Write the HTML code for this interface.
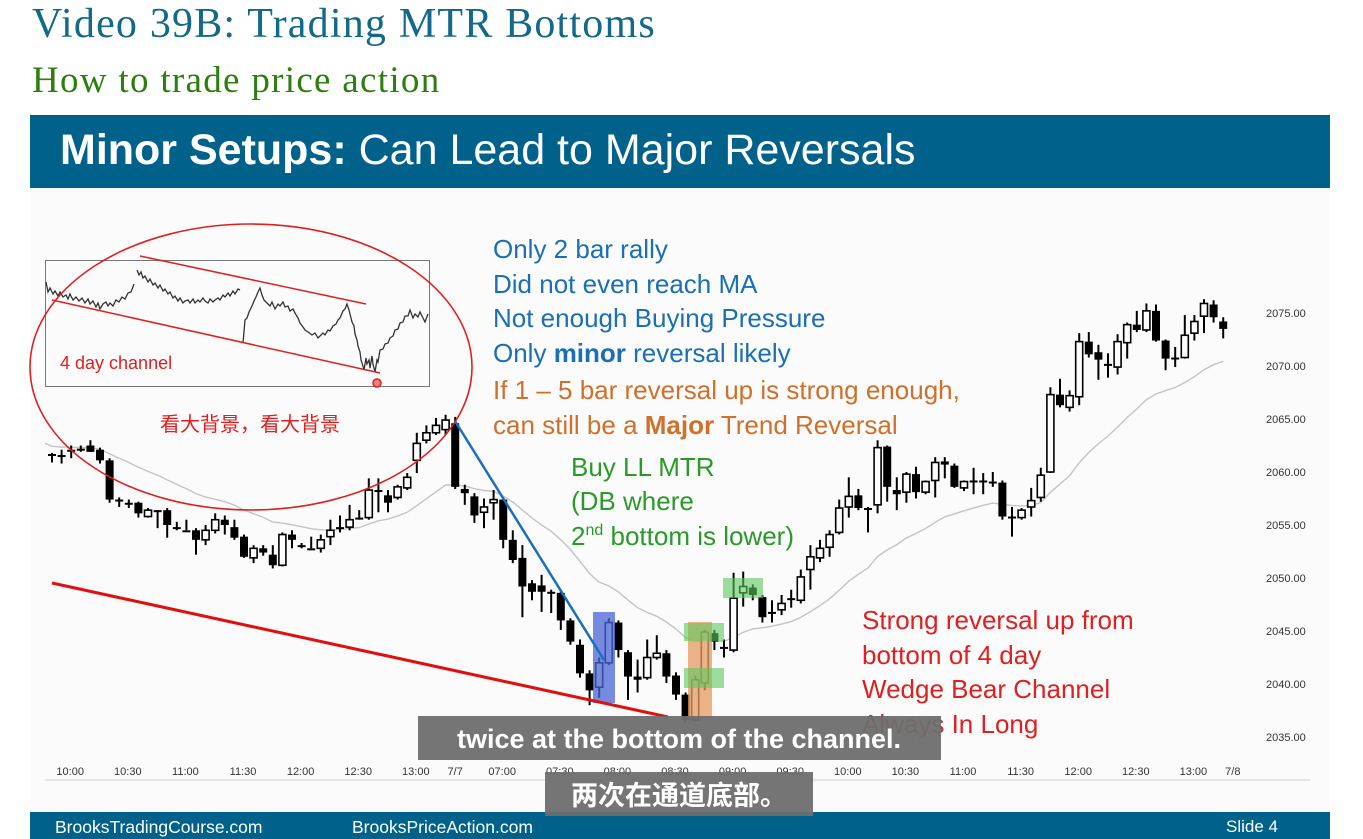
<!DOCTYPE html>
<html><head><meta charset="utf-8">
<style>
html,body{margin:0;padding:0;background:#fff;}
body{width:1363px;height:839px;overflow:hidden;position:relative;font-family:"Liberation Sans","Noto Sans CJK SC",sans-serif;}
.t{position:absolute;white-space:nowrap;}
</style></head>
<body>
<div class="t" style="left:32px;top:0px;font-family:'Liberation Serif',serif;font-size:42px;letter-spacing:1.2px;color:#13698a;">Video 39B: Trading MTR Bottoms</div>
<div class="t" style="left:32px;top:59px;font-family:'Liberation Serif',serif;font-size:37px;letter-spacing:1.3px;color:#2e7d0f;">How to trade price action</div>
<div style="position:absolute;left:30px;top:115px;width:1300px;height:73px;background:#00628b;"></div>
<div class="t" style="left:60px;top:126px;font-size:43px;color:#fff;"><b>Minor Setups:</b> Can Lead to Major Reversals</div>
<div style="position:absolute;left:30px;top:188px;width:1300px;height:624px;background:#fbfbfb;"></div>
<div style="position:absolute;left:30px;top:812px;width:1300px;height:27px;background:#00628b;"></div>
<div class="t" style="left:55px;top:817px;font-size:17.5px;color:#fff;">BrooksTradingCourse.com</div>
<div class="t" style="left:352px;top:817px;font-size:17.5px;color:#fff;">BrooksPriceAction.com</div>
<div class="t" style="left:1226px;top:817px;font-size:17px;color:#fff;">Slide 4</div>

<svg id="chart" width="1363" height="839" style="position:absolute;left:0;top:0;" xmlns="http://www.w3.org/2000/svg">
<g id="bg-layer"></g>
<g id="ma-layer"></g>
<g id="candle-layer"></g>
<g id="axis-layer"></g>
</svg>

<svg width="1363" height="839" style="position:absolute;left:0;top:0;" xmlns="http://www.w3.org/2000/svg" font-family="Liberation Sans, Noto Sans CJK SC, sans-serif">
<rect x="45.5" y="260.5" width="384" height="126" fill="none" stroke="#777" stroke-width="1"/>
<polyline fill="none" stroke="#333" stroke-width="1.3" points="46,282 48,292 50,288 53,294 55,291 58,296 60,292 63,297 66,295 68,299 70,294 73,300 76,297 79,301 82,298 85,303 88,299 90,304 93,301 96,307 98,303 100,309 103,304 106,302 108,306 110,303 113,306 116,300 119,302 122,297 125,299 128,293 131,292 134,284"/>
<polyline fill="none" stroke="#333" stroke-width="1.3" points="137,270 139,275 141,272 143,278 145,276 148,282 150,279 153,285 155,283 158,288 160,285 163,291 165,289 168,294 170,292 173,298 175,296 178,301 180,298 183,303 185,301 188,300 190,303 193,299 195,303 198,300 200,302 203,298 205,301 208,303 210,299 213,302 215,300 218,298 220,300 223,295 225,297 228,293 230,296 233,291 235,294 238,289 240,290"/>
<polyline fill="none" stroke="#333" stroke-width="1.3" points="243,343 245,320 247,318 249,312 252,306 254,301 256,297 258,292 260,288 262,295 264,300 267,303 270,306 272,302 275,309 278,304 280,306 283,302 285,307 288,306 290,311 293,309 295,313 298,318 300,323 303,327 305,330 308,332 312,335 315,333 318,338 320,336 323,333 325,335 328,330 330,331 333,326 336,324 338,320 340,318 343,311 345,309 347,304 349,310 350,314 352,322 354,326 355,334 357,340 358,346 360,352 361,360 363,366 364,370 366,358 367,364 369,360 370,368 372,356 373,364 375,372 377,360 378,362 380,350 383,349 385,344 388,343 390,338 393,336 395,330 398,329 400,323 403,322 405,316 408,316 410,310 413,318 415,314 418,317 420,312 423,318 425,322 428,314"/>
<line x1="140" y1="256" x2="366" y2="304" stroke="#e02020" stroke-width="1.5"/>
<line x1="52" y1="300" x2="380" y2="373" stroke="#e02020" stroke-width="1.5"/>
<circle cx="377" cy="383" r="4" fill="#f08080" stroke="#e02020" stroke-width="1.5"/>
<text x="60" y="369" font-size="18" fill="#e02020">4 day channel</text>
<ellipse cx="251" cy="367" rx="221" ry="143" fill="none" stroke="#e02020" stroke-width="1.6"/>
<text x="160" y="431" font-size="20" fill="#e02020">看大背景，看大背景</text>

<rect x="593" y="612" width="22" height="91" fill="#4a66d6" opacity="0.75"/>
<rect x="688" y="622" width="24" height="96" fill="#e59a60" opacity="0.75"/>
<rect x="723" y="578" width="40" height="20" fill="#5ec85e" opacity="0.6"/>
<rect x="684" y="623" width="40" height="18" fill="#5ec85e" opacity="0.6"/>
<rect x="684" y="668" width="40" height="20" fill="#5ec85e" opacity="0.6"/>
<line x1="52" y1="583" x2="668" y2="717" stroke="#e01010" stroke-width="3"/>
<line x1="455" y1="421" x2="604" y2="660" stroke="#1a70c0" stroke-width="2.5"/>

<g font-size="26">
<text x="493" y="258" fill="#1a6fb5">Only 2 bar rally</text>
<text x="493" y="293" fill="#1a6fb5">Did not even reach MA</text>
<text x="493" y="327" fill="#1a6fb5">Not enough Buying Pressure</text>
<text x="493" y="362" fill="#1a6fb5">Only <tspan font-weight="bold">minor</tspan> reversal likely</text>
<text x="493" y="399" fill="#d0702a">If 1 – 5 bar reversal up is strong enough,</text>
<text x="493" y="434" fill="#d0702a">can still be a <tspan font-weight="bold">Major</tspan> Trend Reversal</text>
<text x="571" y="476" fill="#2a9a2a">Buy LL MTR</text>
<text x="571" y="510" fill="#2a9a2a">(DB where</text>
<text x="571" y="545" fill="#2a9a2a">2<tspan font-size="16" dy="-10">nd</tspan><tspan dy="10"> bottom is lower)</tspan></text>
<text x="862" y="629" fill="#e02020">Strong reversal up from</text>
<text x="862" y="664" fill="#e02020">bottom of 4 day</text>
<text x="862" y="698" fill="#e02020">Wedge Bear Channel</text>
<text x="862" y="733" fill="#e02020">Always In Long</text>
</g>
<rect x="418" y="716" width="523" height="44" fill="#6e6e6e" opacity="0.95"/>
<text x="679" y="748" font-size="27" font-weight="bold" fill="#fff" text-anchor="middle">twice at the bottom of the channel.</text>
<rect x="545" y="772" width="268" height="44" fill="#6e6e6e" opacity="0.95"/>
<text x="679" y="805" font-size="27" font-weight="bold" fill="#fff" text-anchor="middle">两次在通道底部。</text>
</svg>

<script>
const ohlc = [
[2061.7,2061.8,2060.9,2061.7],[2061.6,2062.1,2060.8,2061.6],[2062.1,2062.5,2061.3,2062.1],[2062.2,2062.5,2061.9,2062.2],
[2062.5,2063.0,2061.9,2061.9],[2062.1,2062.3,2060.8,2061.1],[2061.1,2061.3,2057.1,2057.4],[2057.4,2057.6,2056.7,2057.4],
[2057.1,2057.4,2056.6,2057.1],[2057.1,2057.2,2055.7,2056.1],[2055.8,2056.6,2055.7,2056.4],[2056.4,2056.4,2054.7,2056.4],
[2056.4,2056.6,2053.8,2055.0],[2054.8,2055.3,2054.5,2054.8],[2054.5,2055.5,2054.5,2054.5],[2054.5,2054.7,2052.2,2053.6],
[2053.6,2055.0,2053.1,2054.5],[2054.5,2056.1,2054.2,2055.5],[2055.5,2055.9,2054.1,2055.0],[2054.8,2055.5,2053.6,2053.8],
[2053.9,2054.1,2051.9,2052.0],[2051.9,2053.1,2051.4,2052.8],[2052.8,2053.1,2052.1,2052.4],[2052.2,2053.1,2050.9,2051.2],
[2051.2,2054.3,2051.1,2054.1],[2054.1,2054.5,2052.8,2053.6],[2053.1,2053.3,2052.8,2053.1],[2052.8,2053.9,2052.8,2052.8],
[2052.8,2054.1,2052.4,2053.6],[2053.9,2055.5,2053.1,2054.5],[2054.8,2055.9,2054.3,2054.8],[2054.8,2056.9,2054.5,2055.5],
[2055.7,2056.4,2055.5,2055.7],[2055.7,2059.4,2055.5,2058.3],[2058.3,2059.4,2056.2,2058.3],[2057.8,2058.3,2056.2,2057.1],
[2057.6,2058.8,2057.4,2058.6],[2058.5,2059.9,2058.3,2059.5],[2061.1,2063.7,2059.9,2062.7],[2063.0,2064.4,2062.7,2063.7],
[2063.7,2065.1,2063.5,2064.4],[2064.0,2065.4,2063.5,2064.9],
[2064.6,2065.2,2058.4,2058.6],[2058.4,2058.8,2056.9,2058.0],[2057.7,2058.0,2055.2,2055.9],[2056.2,2057.5,2054.7,2056.7],
[2057.1,2058.3,2055.5,2057.4],[2057.4,2057.5,2052.8,2053.6],[2053.6,2054.5,2051.4,2051.7],[2051.9,2053.1,2046.3,2049.2],
[2049.5,2049.8,2047.9,2048.7],[2049.3,2050.3,2046.8,2048.7],[2048.7,2048.9,2046.7,2048.7],[2048.6,2048.9,2045.1,2046.0],
[2046.0,2046.2,2043.7,2044.0],[2043.7,2044.2,2040.6,2041.0],[2041.0,2041.3,2038.0,2039.4],[2039.7,2042.5,2038.7,2042.0],
[2042.0,2046.2,2041.8,2045.8],[2045.8,2046.0,2042.5,2043.2],[2043.0,2043.2,2038.5,2040.7],[2040.7,2042.3,2039.2,2040.4],
[2040.6,2044.2,2040.4,2042.5],[2042.5,2044.6,2042.3,2042.9],[2042.9,2043.2,2040.1,2040.7],[2040.8,2041.1,2038.5,2039.0],
[2039.0,2039.2,2036.4,2036.6],[2036.6,2040.8,2036.4,2040.4],[2040.1,2045.1,2039.4,2044.9],[2044.8,2045.1,2043.2,2044.0],
[2043.5,2044.2,2042.5,2043.5],[2043.2,2050.5,2043.0,2048.1],[2048.6,2050.6,2047.3,2049.2],[2049.1,2049.4,2047.9,2048.4],
[2048.2,2048.4,2045.8,2046.3],[2046.8,2047.9,2045.8,2046.8],[2047.0,2048.4,2046.5,2047.6],[2048.1,2048.9,2047.2,2048.1],
[2047.9,2050.8,2047.6,2050.1],[2050.8,2053.1,2048.9,2052.0],[2051.9,2053.6,2051.5,2052.8],[2052.9,2054.5,2052.0,2054.1],
[2054.3,2057.4,2054.1,2056.6],[2056.7,2059.5,2055.7,2057.7],[2057.8,2058.4,2056.4,2056.6],[2056.6,2056.7,2054.3,2056.6],
[2056.9,2063.0,2056.1,2062.3],[2062.4,2062.5,2057.2,2058.6],[2058.3,2059.5,2056.4,2057.9],[2058.1,2060.0,2057.1,2059.8],
[2059.8,2060.5,2057.5,2058.1],[2058.1,2059.2,2057.9,2059.1],[2059.2,2061.4,2057.6,2060.9],[2061.0,2061.4,2059.4,2060.7],
[2060.6,2060.8,2058.5,2058.6],[2058.5,2059.2,2058.2,2059.1],[2059.2,2060.4,2057.9,2059.2],[2059.2,2059.9,2057.9,2059.2],
[2059.1,2060.0,2058.6,2059.1],[2059.0,2059.2,2055.5,2055.8],[2055.8,2056.7,2053.9,2055.8],[2055.7,2056.6,2055.5,2056.4],
[2056.7,2058.5,2055.8,2057.3],[2057.6,2060.4,2057.2,2059.7],[2060.0,2068.0,2059.9,2067.3],[2067.3,2068.8,2066.1,2066.3],
[2066.1,2067.7,2065.7,2067.2],[2067.1,2073.1,2066.3,2072.3],[2072.3,2073.2,2070.8,2071.1],[2071.3,2072.0,2068.7,2070.6],
[2070.2,2071.2,2068.9,2070.2],[2069.9,2073.0,2069.2,2072.3],[2072.2,2074.1,2070.7,2073.9],[2073.9,2075.2,2073.2,2073.4],
[2073.4,2075.9,2073.2,2075.2],[2075.2,2075.8,2072.3,2072.4],[2072.4,2072.5,2069.6,2070.7],[2070.8,2071.8,2069.9,2070.8],
[2070.8,2074.8,2070.7,2072.9],[2073.1,2074.8,2072.4,2074.2],[2074.7,2076.3,2073.1,2075.9],[2075.8,2076.2,2074.1,2074.6],
[2074.2,2074.6,2072.6,2073.5]
];
const priceTicks = [2075,2070,2065,2060,2055,2050,2045,2040,2035];
const timeTickIndex = [2,8,14,20,26,32,38,42,47,53,59,65,71,77,83,89,95,101,107,113,119,123];
const timeTickLabels = ["10:00","10:30","11:00","11:30","12:00","12:30","13:00","7/7","07:00","07:30","08:00","08:30","09:00","09:30","10:00","10:30","11:00","11:30","12:00","12:30","13:00","7/8"];
const maPeriod = 20;

const NS = "http://www.w3.org/2000/svg";
function xScale(i){ return 52 + i*9.6; }
function yScale(p){ return 313 + (2075 - p)*10.6; }
function mk(tag, attrs, parent){ const e=document.createElementNS(NS,tag); for(const k in attrs) e.setAttribute(k,attrs[k]); parent.appendChild(e); return e; }

const cl = document.getElementById('candle-layer');
ohlc.forEach((b,i)=>{
  const [o,h,l,c]=b; const x=xScale(i);
  const g=mk('g',{},cl);
  
  
  mk('line',{x1:x,x2:x,y1:yScale(h),y2:yScale(l),stroke:'#000','stroke-width':2},g);
  const top=yScale(Math.max(o,c)), bot=yScale(Math.min(o,c));
  const hgt=Math.max(bot-top,2);
  if(c>=o && bot-top>2){
    mk('rect',{x:x-3.5,y:top,width:7,height:hgt,fill:'#fff',stroke:'#000','stroke-width':1.6},g);
  } else {
    mk('rect',{x:x-4,y:top,width:8,height:hgt,fill:'#000'},g);
  }
});

let ema=ohlc[0][3]+0.8; const k=2/(maPeriod+1); const pts=[];
ohlc.forEach((b,i)=>{ ema = b[3]*k + ema*(1-k); pts.push(xScale(i)+','+yScale(ema).toFixed(1)); });
const ma=mk('polyline',{points:'45,'+yScale(ohlc[0][3]+1).toFixed(1)+' '+pts.join(' '),fill:'none',stroke:'#c4c4c4','stroke-width':1.4},document.getElementById('ma-layer'));



const ax=document.getElementById('axis-layer');
const base=mk('line',{x1:45,x2:1310,y1:780,y2:780,stroke:'#e6e6e6','stroke-width':2},ax);


priceTicks.forEach(p=>{
  const t=mk('text',{x:1266,y:yScale(p)+4,'font-size':11,fill:'#333','font-family':'Liberation Sans, sans-serif'},ax);
  t.textContent=p.toFixed(2);
  
  
});
timeTickIndex.forEach((idx,j)=>{
  const t=mk('text',{x:xScale(idx)-(j===7||j===21?0:1),y:775,'font-size':11,fill:'#333','text-anchor':'middle','font-family':'Liberation Sans, sans-serif'},ax);
  t.textContent=timeTickLabels[j];
  
  
});
</script>
</body></html>
